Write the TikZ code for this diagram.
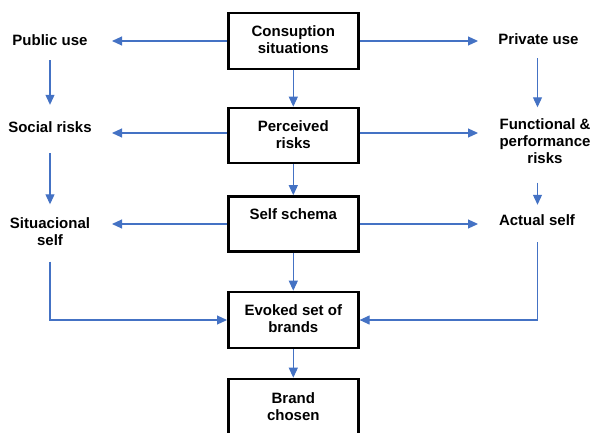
\documentclass[tikz,border=0pt]{standalone}
\usepackage{fontspec}
\setmainfont{Liberation Sans}
\usetikzlibrary{arrows.meta}
\definecolor{lnblue}{HTML}{4472C4}
\newcommand\st{\rule[-3pt]{0pt}{14pt}}
\begin{document}
\begin{tikzpicture}[x=1pt,y=-1pt,
  txt/.style={font=\fontsize{15}{17}\selectfont\bfseries, align=center, inner sep=0pt},
  box/.style={txt, draw=black, line width=2.6pt, minimum width=130pt, minimum height=#1},
  arr/.style={draw=lnblue, line width=1.1pt, -{Triangle[length=10pt,width=9pt]}}]
\useasboundingbox (0,0) rectangle (591,433);
% boxes
\node[box=56pt] (b1) at (293.3,41) {Consuption\st\\situations\st};
\node[box=55pt] (b2) at (293.3,135.5) {Perceived\st\\risks\st};
\node[box=55pt] (b3) at (293.3,224) {Self schema\st\\\st};
\node[box=56pt] (b4) at (293.3,320) {Evoked set of\st\\brands\st};
\node[box=57pt] (b5) at (293.3,407.5) {Brand\st\\chosen\st};
% left labels
\node[txt] (pub) at (50,42) {Public use\st};
\node[txt] (soc) at (50,128) {Social risks\st};
\node[txt] (sit) at (50,233) {Situacional\st\\self\st};
% right labels
\node[txt] (priv) at (538.5,41) {Private use\st};
\node[txt] (func) at (545,142.5) {Functional \&\st\\performance\st\\risks\st};
\node[txt] (act) at (537,221) {Actual self\st};
\coordinate (L) at (112,0);
\coordinate (R) at (478,0);
\coordinate (RX) at (537.5,0);
% center vertical arrows
\draw[arr] (b1.south) -- (b2.north);
\draw[arr] (b2.south) -- (b3.north);
\draw[arr] (b3.south) -- (b4.north);
\draw[arr] (b4.south) -- (b5.north);
% horizontal arrows
\draw[arr] (b1.west) -- (b1.west -| L);
\draw[arr] (b1.east) -- (b1.east -| R);
\draw[arr] ([yshift=2.5pt]b2.west) -- ([yshift=2.5pt]b2.west -| L);
\draw[arr] ([yshift=2.5pt]b2.east) -- ([yshift=2.5pt]b2.east -| R);
\draw[arr] (b3.west) -- (b3.west -| L);
\draw[arr] (b3.east) -- (b3.east -| R);
% left column
\draw[arr, shorten <=11pt, shorten >=16pt] (pub.south) -- (soc.north);
\draw[arr, shorten <=18pt, shorten >=13pt] (soc.south) -- (sit.north);
\draw[arr, shorten <=13pt] (sit.south) |- (b4.west);
% right column
\draw[arr, shorten <=10pt, shorten >=11pt] (priv.south -| RX) -- (func.north -| RX);
\draw[arr, shorten <=16pt, shorten >=9pt] (func.south -| RX) -- (act.north -| RX);
\draw[arr, shorten <=14pt] (act.south -| RX) |- (b4.east);
\end{tikzpicture}
\end{document}
